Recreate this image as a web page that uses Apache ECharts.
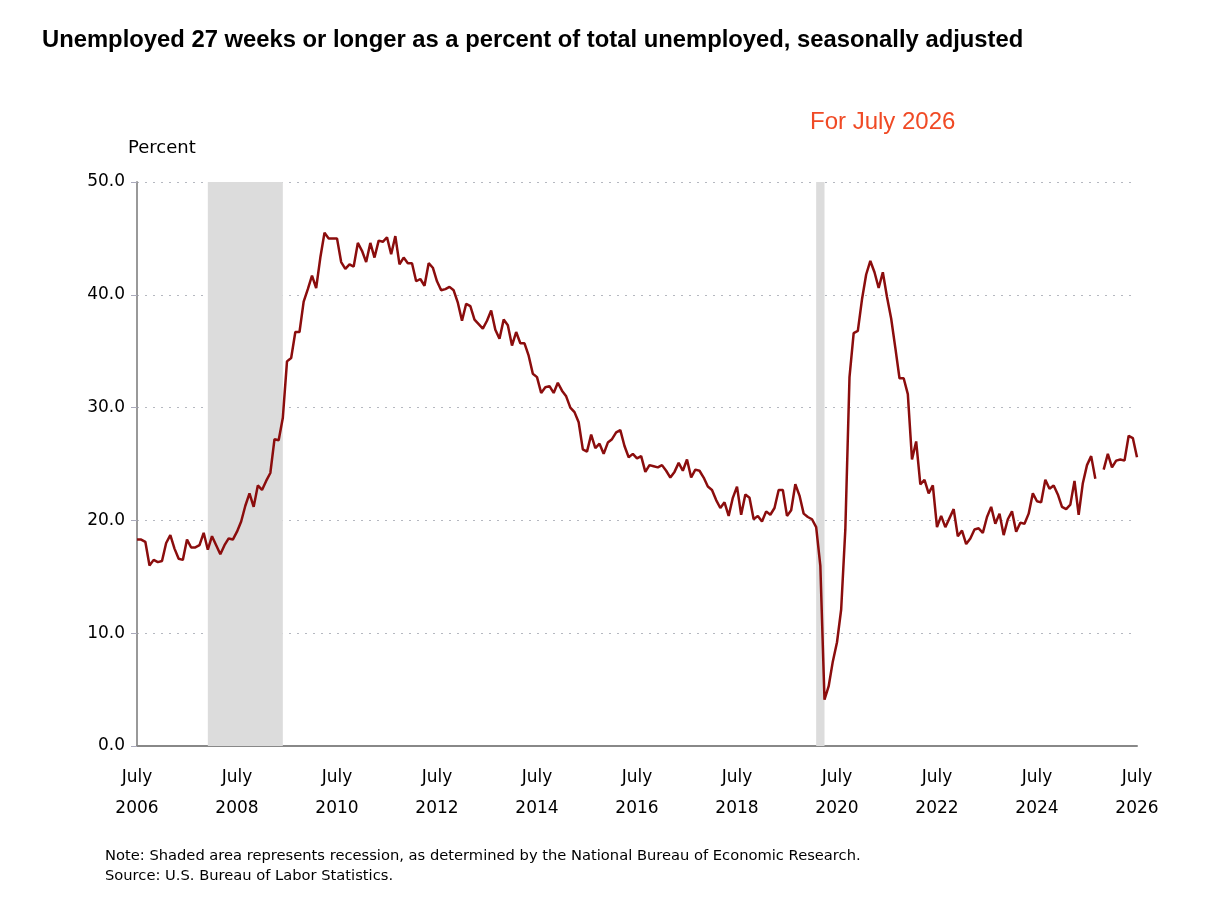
<!DOCTYPE html>
<html>
<head>
<meta charset="utf-8">
<script src="https://cdn.jsdelivr.net/npm/echarts@6/dist/echarts.min.js"></script>
<style>
  html, body { margin: 0; padding: 0; background: #fff; }
  #chart { width: 1210px; height: 908px; }
</style>
</head>
<body>
<div id="chart"></div>
<script>
// month index 0 = July 2006
var startYear = 2006;
var values = [
  // 2006 Jul-Dec
  18.3, 18.3, 18.1, 16.0, 16.5, 16.3,
  // 2007
  16.4, 18.0, 18.7, 17.5, 16.6, 16.5, 18.3, 17.6, 17.6, 17.8, 18.9, 17.4,
  // 2008
  18.6, 17.8, 17.0, 17.8, 18.4, 18.3, 19.0, 19.9, 21.3, 22.4, 21.2, 23.1,
  // 2009
  22.7, 23.5, 24.2, 27.2, 27.1, 29.1, 34.1, 34.4, 36.7, 36.7, 39.4, 40.5,
  // 2010
  41.7, 40.6, 43.3, 45.5, 45.0, 45.0, 45.0, 42.9, 42.3, 42.7, 42.5, 44.6,
  // 2011
  43.9, 42.9, 44.6, 43.3, 44.8, 44.7, 45.1, 43.6, 45.2, 42.7, 43.3, 42.8,
  // 2012
  42.8, 41.2, 41.4, 40.8, 42.8, 42.4, 41.2, 40.4, 40.5, 40.7, 40.4, 39.3,
  // 2013
  37.7, 39.2, 39.0, 37.8, 37.4, 37.0, 37.7, 38.6, 36.9, 36.1, 37.8, 37.3,
  // 2014
  35.5, 36.7, 35.7, 35.7, 34.6, 33.0, 32.7, 31.3, 31.8, 31.9, 31.3, 32.2,
  // 2015
  31.5, 31.0, 30.0, 29.6, 28.7, 26.3, 26.1, 27.6, 26.4, 26.8, 25.9, 26.9,
  // 2016
  27.2, 27.8, 28.0, 26.6, 25.6, 25.9, 25.5, 25.7, 24.3, 24.9, 24.8, 24.7,
  // 2017
  24.9, 24.4, 23.8, 24.3, 25.1, 24.4, 25.4, 23.8, 24.5, 24.4, 23.8, 23.0,
  // 2018
  22.7, 21.8, 21.1, 21.6, 20.4, 22.0, 23.0, 20.5, 22.3, 22.0, 20.1, 20.4,
  // 2019
  19.9, 20.8, 20.5, 21.1, 22.7, 22.7, 20.4, 20.9, 23.2, 22.2, 20.6, 20.3,
  // 2020
  20.1, 19.4, 16.0, 4.1, 5.3, 7.5, 9.2, 12.1, 19.2, 32.7, 36.6, 36.8,
  // 2021
  39.6, 41.8, 43.0, 42.0, 40.6, 42.0, 39.8, 37.9, 35.3, 32.6, 32.6, 31.2,
  // 2022
  25.4, 27.0, 23.2, 23.6, 22.4, 23.1, 19.4, 20.4, 19.4, 20.2, 21.0, 18.6,
  // 2023
  19.1, 17.9, 18.4, 19.2, 19.3, 18.9, 20.3, 21.2, 19.7, 20.6, 18.7, 20.1,
  // 2024
  20.8, 19.0, 19.8, 19.7, 20.6, 22.4, 21.7, 21.6, 23.6, 22.8, 23.1, 22.3,
  // 2025 (October not published)
  21.2, 21.0, 21.4, 23.5, 20.5, 23.3, 24.9, 25.7, 23.7, null, 24.5, 25.9,
  // 2026 Jan-Jul
  24.7, 25.3, 25.4, 25.3, 27.5, 27.3, 25.6
];
// recessions, in month index (Dec 2007 - Jun 2009, Feb 2020 - Apr 2020)
var recessions = [[17, 35], [163, 165]];
var yTicks = [0, 10, 20, 30, 40, 50];

var seriesData = values.map(function (v, i) { return [i, v]; });

var myChart = echarts.init(document.getElementById('chart'));
var option = {
  animation: false,
  backgroundColor: '#fff',
  grid: { left: 137, right: 73, top: 182, bottom: 162 },
  graphic: [
    { type: 'text', left: 42, top: 28,
      style: { text: 'Unemployed 27 weeks or longer as a percent of total unemployed, seasonally adjusted',
        font: 'bold 23.8px "Liberation Sans", Arial, sans-serif', fill: '#000' } },
    { type: 'text', left: 810, top: 110,
      style: { text: 'For July 2026', font: '24px "Liberation Sans", Arial, sans-serif', fill: '#f04a25' } },
    { type: 'text', left: 128, top: 139,
      style: { text: 'Percent', font: '18px "DejaVu Sans", sans-serif', fill: '#000' } },
    { type: 'text', left: 105, top: 846,
      style: { text: 'Note: Shaded area represents recession, as determined by the National Bureau of Economic Research.\nSource: U.S. Bureau of Labor Statistics.',
        font: '14.7px "DejaVu Sans", sans-serif', fill: '#000', lineHeight: 20 } }
  ],
  xAxis: {
    type: 'value', min: 0, max: 240, interval: 24,
    axisLine: { lineStyle: { color: '#888', width: 2 } },
    axisTick: { show: false },
    splitLine: { show: false },
    axisLabel: {
      color: '#000', fontSize: 17, fontFamily: '"DejaVu Sans", sans-serif',
      lineHeight: 31, margin: 16,
      formatter: function (v) { return 'July\n' + (startYear + v / 12); }
    }
  },
  yAxis: {
    type: 'value', min: yTicks[0], max: yTicks[yTicks.length - 1], interval: 10,
    axisLine: { show: true, lineStyle: { color: '#999', width: 2 } },
    axisTick: { show: true, length: 6, inside: false, lineStyle: { color: '#aab' } },
    splitLine: { lineStyle: { color: '#b5b8c0', type: [2, 6] } },
    axisLabel: {
      color: '#000', fontSize: 17, fontFamily: '"DejaVu Sans", sans-serif', margin: 12,
      formatter: function (v) { return v.toFixed(1); }
    }
  },
  series: [{
    type: 'line',
    data: seriesData,
    showSymbol: false,
    connectNulls: false,
    lineStyle: { color: '#8b0d0d', width: 2.5 },
    itemStyle: { color: '#8b0d0d' },
    z: 3,
    markArea: {
      silent: true,
      itemStyle: { color: '#dcdcdc' },
      data: recessions.map(function (r) { return [{ xAxis: r[0] }, { xAxis: r[1] }]; })
    }
  }]
};
myChart.setOption(option);
</script>
</body>
</html>
